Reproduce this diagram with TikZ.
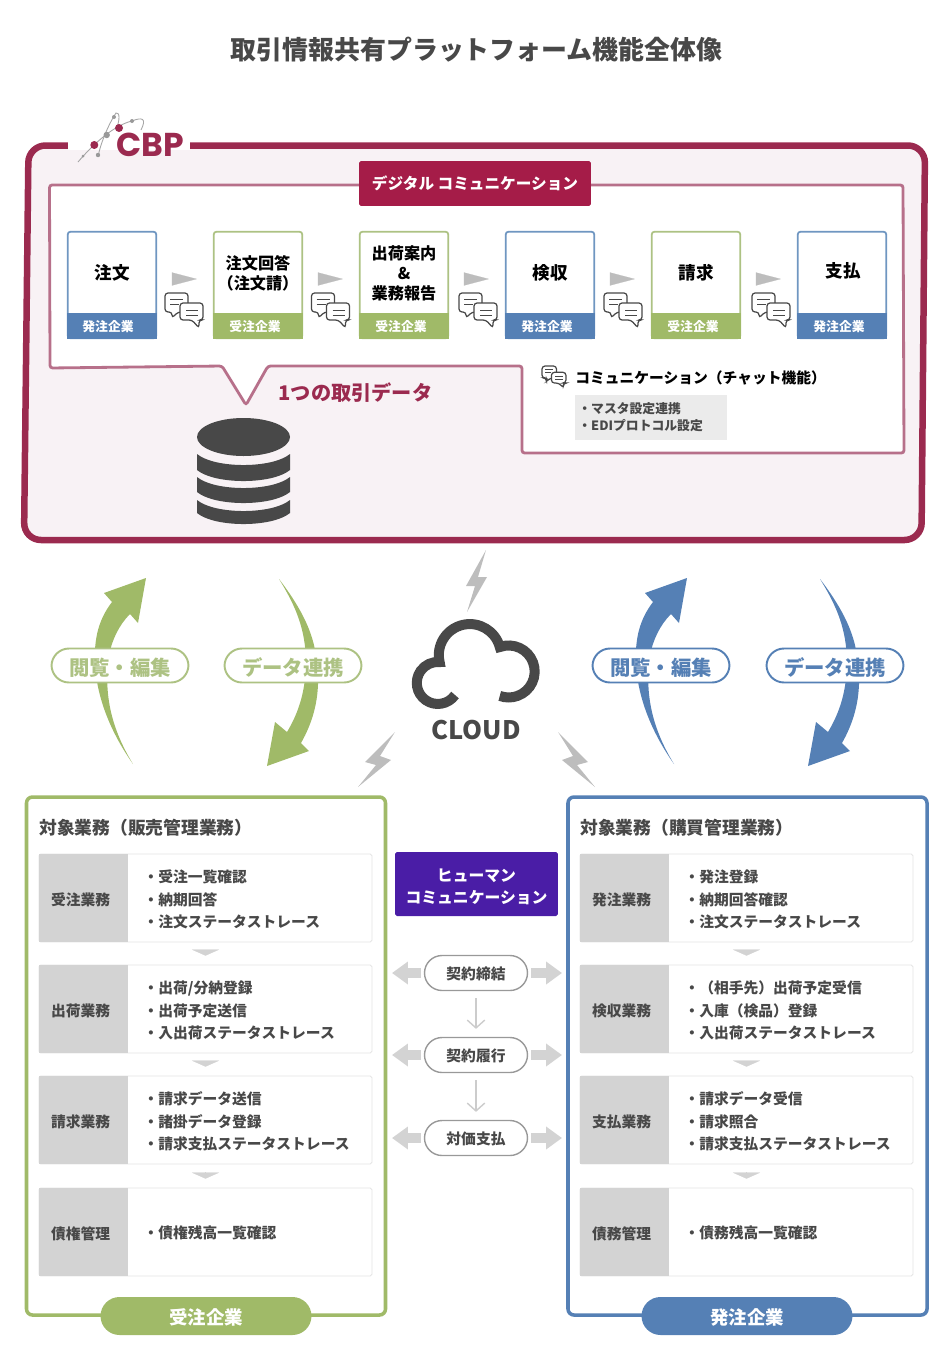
\documentclass[tikz,border=0pt]{standalone}
\usepackage{fontspec}
\usepackage{xcolor}
\usetikzlibrary{arrows.meta}
\setmainfont{Noto Sans CJK JP}
\newfontfamily\logofont{Poppins}
\definecolor{framered}{HTML}{9B2A4F}
\definecolor{headred}{HTML}{A51C48}
\definecolor{panelred}{HTML}{B7708A}
\definecolor{pinkbg}{HTML}{F8F2F5}
\definecolor{bluec}{HTML}{5580B5}
\definecolor{bluecard}{HTML}{6F96C1}
\definecolor{greenc}{HTML}{A0BA68}
\definecolor{greencard}{HTML}{ADC283}
\definecolor{bolt}{HTML}{BDBDBD}
\definecolor{inkgray}{HTML}{484848}
\definecolor{softgray}{HTML}{D3D3D3}
\definecolor{purplec}{HTML}{4A1DA6}
\tikzset{
  bluebox/.style={draw=bluecard,line width=1pt,fill=white,rounded corners=1.5pt,minimum width=1.77cm,minimum height=2.13cm,inner sep=0},
  greenbox/.style={bluebox,draw=greencard},
  blueband/.style={fill=bluec,minimum width=1.8cm,minimum height=0.52cm,inner sep=0},
  greenband/.style={blueband,fill=greenc},
  bandtext/.style={text=white,font=\fontsize{7.3}{9}\selectfont\bfseries,inner sep=0},
  cardtext/.style={text=black,font=\fontsize{10}{11.4}\selectfont\bfseries,inner sep=0,align=center},
  cardtextsm/.style={cardtext,font=\fontsize{9.2}{11.4}\selectfont\bfseries},
  cardtip/.style={draw=bolt,line width=0.1pt,shorten <=8.5pt,shorten >=9.1pt,-{Triangle[length=14.2pt,width=7.4pt]},bolt},
  chatline/.style={draw=inkgray,line width=0.7pt,rounded corners=0.06cm,fill=white},
  chatrule/.style={draw=inkgray,line width=0.5pt},
  chaticon/.pic={
    \draw[chatline] (0,0)--(23,0)--(23,19)--(13,19)--(7,25)--(7,19)--(0,19)--cycle;
    \draw[chatrule] (5,6)--(18,6);
    \draw[chatrule] (5,11)--(14,11);
    \draw[chatline] (15,10)--(38,10)--(38,27)--(34,27)--(34,35)--(27,27)--(15,27)--cycle;
    \draw[chatrule] (21,17)--(33,17);
    \draw[chatrule] (21,22)--(33,22);
  },
  cycleup/.pic={
    \fill[#1] (674,764) .. controls (650,730) and (634,690) .. (636,650) .. controls (637,630) and (643,615) .. (653,602)
      -- (645,593) -- (687,578) -- (679,623) -- (671,614) .. controls (660,625) and (653,640) .. (650,655)
      .. controls (645,690) and (650,725) .. (674,764) -- cycle;
  },
  cycledown/.pic={
    \fill[#1] (820,579) .. controls (840,605) and (852,628) .. (856,650) .. controls (863,685) and (858,715) .. (842,743)
      -- (850,751) -- (808,766) -- (816,722) -- (828,732) .. controls (840,712) and (847,690) .. (847,660)
      .. controls (846,630) and (838,608) .. (820,579) -- cycle;
  },
  greenpill/.style={draw=greencard,line width=1.1pt,fill=white,rounded corners=0.35cm,minimum width=2.74cm,minimum height=0.68cm,inner sep=0,text=greencard,text height=12pt,font=\fontsize{11.6}{13}\selectfont\bfseries},
  bluepill/.style={greenpill,draw=bluec,text=bluec},
  sidebox/.style={line width=2pt,rounded corners=0.12cm},
  sidetitle/.style={anchor=west,inner sep=0,text=inkgray,font=\fontsize{10.1}{12}\selectfont\bfseries},
  rowbox/.style={draw=black!10,line width=0.5pt,fill=white,rounded corners=1pt,minimum width=6.66cm,minimum height=1.76cm,inner sep=0},
  rowhead/.style={fill=softgray,text=inkgray,minimum height=1.76cm,text width=1.3cm,inner xsep=0.24cm,inner ysep=0,text height=9.1pt,align=left,font=\fontsize{8.4}{10}\selectfont\bfseries},
  rowtext/.style={anchor=west,inner sep=0,align=left,text=inkgray,font=\fontsize{8.4}{12.7}\selectfont\bfseries},
  rowtip/.style={draw=softgray,line width=0.1pt,shorten <=4.5pt,shorten >=5.1pt,-{Triangle[length=3.4pt,width=15.4pt]},softgray},
  ownerpill/.style={rounded corners=0.38cm,minimum width=4.22cm,minimum height=0.76cm,inner sep=0,text=white,text height=10.4pt,font=\fontsize{10.5}{12}\selectfont\bfseries},
  stagepill/.style={draw=black!40,line width=0.8pt,fill=white,rounded corners=0.35cm,minimum width=2.06cm,minimum height=0.7cm,inner sep=0,text=inkgray,text height=8.6pt,font=\fontsize{8.4}{10}\selectfont\bfseries},
  stagearrow/.style={draw=black!20,line width=0.8pt,shorten <=4pt,shorten >=4.5pt,-{Straight Barb[length=4.5pt,width=10pt]}},
  sideblock/.style={draw=softgray,line width=5.7pt,shorten <=1.7pt,-{Triangle[length=9.1pt,width=12.5pt]},softgray},
  boltfill/.style={fill=bolt},
  dbfill/.style={fill=inkgray},
  logodot/.style={fill=framered},
  logogray/.style={fill=black!40},
  logoline/.style={draw=black!35,line width=0.5pt}
}
\begin{document}
\begin{tikzpicture}[x=0.02cm,y=-0.02cm]
\useasboundingbox (0,0) rectangle (950,1366);
\node[inner sep=0,text=inkgray,font=\fontsize{14.75}{17}\selectfont\bfseries] (title) at (476.5,50) {取引情報共有プラットフォーム機能全体像};

\draw[draw=framered,fill=pinkbg,line width=3.7pt,rounded corners=0.34cm] (28.5,145.5)--(925,145.5)--(921.5,540)--(24,540)--cycle;
\fill[white] (68,138) rectangle (190,149.8);
\draw[logoline] (78,162) .. controls (95,142) and (115,125) .. (132,121) .. controls (142,117) and (147,118) .. (141,130);
\draw[logoline] (98,157) .. controls (100,145) and (108,125) .. (116,113) .. controls (120,112) and (120,120) .. (116,130);
\fill[logogray] (106.7,135) circle (3.2);
\fill[logogray] (114,117) circle (2);
\fill[logogray] (132,121) circle (2);
\fill[logogray] (98,155) circle (2.2);
\fill[logogray] (83,156) circle (1.5);
\fill[logodot] (119,128) circle (4);
\fill[logodot] (94.3,145) circle (4);
\node[inner sep=0,text=framered,font=\fontsize{18.8}{20}\selectfont\logofont\bfseries] (logo) at (150,145) {CBP};

\draw[draw=panelred,fill=white,line width=1.6pt,rounded corners=1.5pt] (49.5,185)--(903,185)--(904,453)--(522,453)--(522,366)--(268,366)--(246,405)--(222,366)--(50,368)--cycle;
\node[fill=headred,rounded corners=1pt,minimum width=4.64cm,minimum height=0.9cm,inner sep=0,text=white,font=\fontsize{8.9}{10}\selectfont\bfseries] (digital) at (475,183.5) {デジタル コミュニケーション};

\node[bluebox] (order) at (112,285) {};
\node[greenbox] (reply) at (258,285) {};
\node[greenbox] (shipping) at (404,285) {};
\node[bluebox] (inspect) at (550,285) {};
\node[greenbox] (invoice) at (696,285) {};
\node[bluebox] (payment) at (842,285) {};
\node[blueband] (orderband) at (112,326) {};
\node[greenband] (replyband) at (258,326) {};
\node[greenband] (shippingband) at (404,326) {};
\node[blueband] (inspectband) at (550,326) {};
\node[greenband] (invoiceband) at (696,326) {};
\node[blueband] (paymentband) at (842,326) {};
\node[bandtext] (ordertag) at (108,327) {発注企業};
\node[bandtext] (replytag) at (255,327) {受注企業};
\node[bandtext] (shippingtag) at (401,327) {受注企業};
\node[bandtext] (inspecttag) at (547,327) {発注企業};
\node[bandtext] (invoicetag) at (693,327) {受注企業};
\node[bandtext] (paymenttag) at (839,327) {発注企業};
\node[cardtext] (ordername) at (112,273) {注文};
\node[cardtextsm] (replyname) at (258,273) {注文回答\\（注文請）};
\node[cardtextsm] (shippingname) at (404,273) {出荷案内\\\&\\業務報告};
\node[cardtext] (inspectname) at (550,273) {検収};
\node[cardtext] (invoicename) at (696,273) {請求};
\node[cardtext] (paymentname) at (843,271) {支払};

\draw[cardtip] (order.east |- 0,279) -- (reply.west |- 0,279);
\draw[cardtip] (reply.east |- 0,279) -- (shipping.west |- 0,279);
\draw[cardtip] (shipping.east |- 0,279) -- (inspect.west |- 0,279);
\draw[cardtip] (inspect.east |- 0,279) -- (invoice.west |- 0,279);
\draw[cardtip] (invoice.east |- 0,279) -- (payment.west |- 0,279);
\pic at (165,293) {chaticon};
\pic at (311.5,293) {chaticon};
\pic at (459,293) {chaticon};
\pic at (604,293) {chaticon};
\pic at (752,293) {chaticon};
\pic[scale=0.63] at (542,366) {chaticon};

\node[inner sep=0,text=framered,font=\fontsize{11.5}{13}\selectfont\bfseries] (onedata) at (355.5,393) {1つの取引データ};
\node[anchor=west,inner sep=0,text=black,font=\fontsize{8.4}{10}\selectfont\bfseries] (chatname) at (575,377.5) {コミュニケーション（チャット機能）};
\node[fill=black!8,minimum width=3.04cm,minimum height=0.9cm,inner sep=0] (chatnote) at (651,417.5) {};
\node[anchor=west,inner sep=0,align=left,text=inkgray,font=\fontsize{7.3}{9.7}\selectfont\bfseries] (chatitems) at (578,417) {・マスタ設定連携\\・EDIプロトコル設定};

\fill[dbfill] (243.5,437) ellipse (46.5 and 19);
\fill[dbfill] (197,454) .. controls (215,468.7) and (272,468.7) .. (290,454) -- (290,470) .. controls (272,484.7) and (215,484.7) .. (197,470) -- cycle;
\fill[dbfill] (197,477) .. controls (215,491.7) and (272,491.7) .. (290,477) -- (290,492) .. controls (272,506.7) and (215,506.7) .. (197,492) -- cycle;
\fill[dbfill] (197,500) .. controls (215,514.7) and (272,514.7) .. (290,500) -- (290,513) .. controls (272,527.7) and (215,527.7) .. (197,513) -- cycle;

\pic at (-541,0) {cycleup=greenc};
\pic at (-541,0) {cycledown=greenc};
\pic at (0,0) {cycleup=bluec};
\pic at (0,0) {cycledown=bluec};
\node[greenpill] (viewleft) at (120,665.5) {閲覧・編集};
\node[greenpill] (syncleft) at (293,665.5) {データ連携};
\node[bluepill] (viewright) at (661,665.5) {閲覧・編集};
\node[bluepill] (syncright) at (835,665.5) {データ連携};

\fill[boltfill] (486,550)--(466,586)--(475,586)--(467,612)--(487,577)--(478,577)--cycle;
\fill[boltfill] (395,732)--(365,762)--(376,765)--(358,787)--(391,760)--(380,756)--cycle;
\fill[boltfill] (558,732)--(588,762)--(577,765)--(595,787)--(562,760)--(573,756)--cycle;
\draw[draw=inkgray,line width=5.7pt] (455,695) arc[start angle=35,end angle=275,radius=21] arc[start angle=167,end angle=345,radius=31] arc[start angle=250,end angle=470,radius=26];
\node[inner sep=0,text=inkgray,font=\fontsize{14.5}{17}\selectfont\bfseries] (cloudname) at (476,730) {CLOUD};

\draw[draw=greenc,fill=white,sidebox] (26.5,797) rectangle (385.5,1315);
\draw[draw=bluec,fill=white,sidebox] (568,797) rectangle (927,1315);
\node[sidetitle] (saletitle) at (39,828) {対象業務（販売管理業務）};
\node[sidetitle] (buytitle) at (580,828) {対象業務（購買管理業務）};

\node[rowbox] (salerow) at (205.5,898) {};
\node[rowbox] (shiprow) at (205.5,1009) {};
\node[rowbox] (billrow) at (205.5,1120) {};
\node[rowbox] (credrow) at (205.5,1232) {};
\node[rowhead] (salehead) at (83.5,898) {受注業務};
\node[rowhead] (shiphead) at (83.5,1009) {出荷業務};
\node[rowhead] (billhead) at (83.5,1120) {請求業務};
\node[rowhead] (credhead) at (83.5,1232) {債権管理};
\node[rowtext] (saletext) at (143.3,899.5) {・受注一覧確認\\・納期回答\\・注文ステータストレース};
\node[rowtext] (shiptext) at (143.3,1010.5) {・出荷/分納登録\\・出荷予定送信\\・入出荷ステータストレース};
\node[rowtext] (billtext) at (143.3,1121.5) {・請求データ送信\\・諸掛データ登録\\・請求支払ステータストレース};
\node[rowtext] (credtext) at (143.3,1233) {・債権残高一覧確認};
\draw[rowtip] (salerow.south) -- (shiprow.north);
\draw[rowtip] (shiprow.south) -- (billrow.north);
\draw[rowtip] (billrow.south) -- (credrow.north);

\node[rowbox] (buyrow) at (746.5,898) {};
\node[rowbox] (recvrow) at (746.5,1009) {};
\node[rowbox] (payrow) at (746.5,1120) {};
\node[rowbox] (debtrow) at (746.5,1232) {};
\node[rowhead] (buyhead) at (624.5,898) {発注業務};
\node[rowhead] (recvhead) at (624.5,1009) {検収業務};
\node[rowhead] (payhead) at (624.5,1120) {支払業務};
\node[rowhead] (debthead) at (624.5,1232) {債務管理};
\node[rowtext] (buytext) at (684.3,899.5) {・発注登録\\・納期回答確認\\・注文ステータストレース};
\node[rowtext] (recvtext) at (684.3,1010.5) {・（相手先）出荷予定受信\\・入庫（検品）登録\\・入出荷ステータストレース};
\node[rowtext] (paytext) at (684.3,1121.5) {・請求データ受信\\・請求照合\\・請求支払ステータストレース};
\node[rowtext] (debttext) at (684.3,1233) {・債務残高一覧確認};
\draw[rowtip] (buyrow.south) -- (recvrow.north);
\draw[rowtip] (recvrow.south) -- (payrow.north);
\draw[rowtip] (payrow.south) -- (debtrow.north);

\node[ownerpill,fill=greenc] (saleowner) at (206,1316) {受注企業};
\node[ownerpill,fill=bluec] (buyowner) at (747,1316) {発注企業};

\node[fill=purplec,rounded corners=1pt,minimum width=3.26cm,minimum height=1.28cm,inner sep=0,align=center,text=white,font=\fontsize{9}{12.7}\selectfont\bfseries] (human) at (476.5,884) {\rule{0pt}{10.2pt}ヒューマン\\コミュニケーション};
\node[stagepill] (signing) at (476,973) {契約締結};
\node[stagepill] (fulfil) at (476,1055) {契約履行};
\node[stagepill] (settle) at (476,1138) {対価支払};
\draw[stagearrow] (signing) -- (fulfil);
\draw[stagearrow] (fulfil) -- (settle);
\coordinate (signleft) at (392,973);
\coordinate (signright) at (562,973);
\coordinate (fulfilleft) at (392,1055);
\coordinate (fulfilright) at (562,1055);
\coordinate (settleleft) at (392,1138);
\coordinate (settleright) at (562,1138);
\draw[sideblock] (signing.west) -- (signleft);
\draw[sideblock] (signing.east) -- (signright);
\draw[sideblock] (fulfil.west) -- (fulfilleft);
\draw[sideblock] (fulfil.east) -- (fulfilright);
\draw[sideblock] (settle.west) -- (settleleft);
\draw[sideblock] (settle.east) -- (settleright);
\end{tikzpicture}
\end{document}
